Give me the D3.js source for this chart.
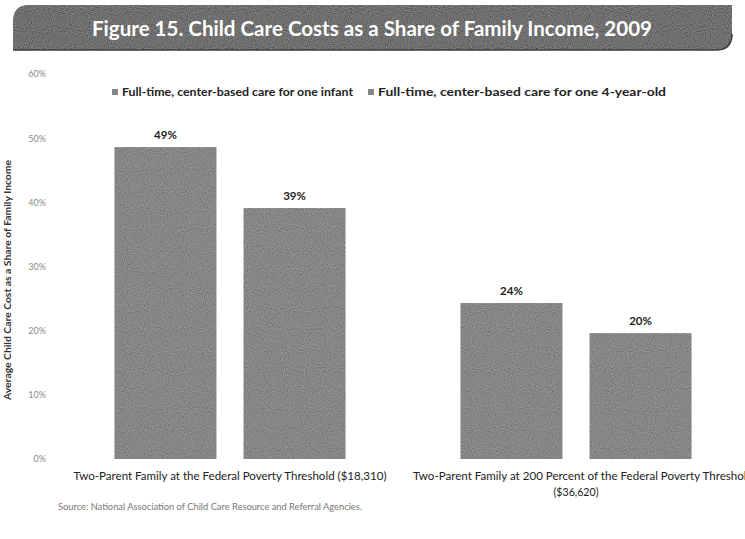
<!DOCTYPE html>
<html>
<head>
<meta charset="utf-8">
<script src="https://cdn.jsdelivr.net/npm/d3@7"></script>
<style>
    body { margin: 0; background: #fff; }
    text { font-family: Lato, "Open Sans", sans-serif; }
</style>
</head>
<body>
<div id="main"></div>
<script>
const W = 745;
const H = 539;

// data
const groups = ["Two-Parent Family at the Federal Poverty Threshold ($18,310)",
    "Two-Parent Family at 200  Percent of the Federal Poverty Threshold ($36,620)"];
const groupLines = [
    ["Two-Parent Family at the Federal Poverty Threshold ($18,310)"],
    ["Two-Parent Family at 200  Percent of the Federal Poverty Threshold", "($36,620)"]
];
const series = ["Full-time, center-based care for one infant",
    "Full-time, center-based care for one 4-year-old"];
const infant = [48.6, 24.3];
const preschool = [39.1, 19.6];
const valueLabels = [["49%", "24%"], ["39%", "20%"]];
const yTicks = [0, 10, 20, 30, 40, 50, 60];

var ctx = {
    barColor: "#878787",
    bannerColor: "#707070",
};

var svg = d3.select("#main").append("svg")
    .attr("width", W)
    .attr("height", H);

// grain filter to mimic the scanned texture
var defs = svg.append("defs");
var grain = defs.append("filter")
    .attr("id", "grain")
    .attr("x", 0).attr("y", 0).attr("width", 1).attr("height", 1);
grain.append("feTurbulence")
    .attr("type", "fractalNoise")
    .attr("baseFrequency", 0.95)
    .attr("numOctaves", 1)
    .attr("seed", 4)
    .attr("result", "noise");
grain.append("feColorMatrix")
    .attr("in", "noise")
    .attr("type", "matrix")
    .attr("values", "0.33 0.33 0.33 0 0  0.33 0.33 0.33 0 0  0.33 0.33 0.33 0 0  0 0 0 0 1")
    .attr("result", "gray");
grain.append("feComposite")
    .attr("in", "SourceGraphic")
    .attr("in2", "gray")
    .attr("operator", "arithmetic")
    .attr("k1", 0).attr("k2", 1).attr("k3", 0.5).attr("k4", -0.25)
    .attr("result", "mix");
grain.append("feComposite")
    .attr("in", "mix")
    .attr("in2", "SourceGraphic")
    .attr("operator", "in");

// title banner: rounded top-left and bottom-right corners
var bx0 = 13, by0 = 5, bx1 = 732, by1 = 50, r = 16;
svg.append("path")
    .attr("d", `M${bx0},${by1} L${bx0},${by0 + r} Q${bx0},${by0} ${bx0 + r},${by0} L${bx1},${by0} L${bx1},${by1 - r} Q${bx1},${by1} ${bx1 - r},${by1} Z`)
    .attr("fill", ctx.bannerColor)
    .attr("filter", "url(#grain)");
svg.append("path")
    .attr("d", `M${bx0},${by1} L${bx1 - r},${by1} Q${bx1},${by1} ${bx1},${by1 - r}`)
    .attr("fill", "none")
    .attr("stroke", "#3c3c3c")
    .attr("stroke-width", 1.5);
svg.append("text")
    .attr("x", 372)
    .attr("y", 36)
    .attr("text-anchor", "middle")
    .attr("fill", "#fff")
    .attr("textLength", 560)
    .attr("lengthAdjust", "spacingAndGlyphs")
    .style("font-size", "21px")
    .style("font-weight", "bold")
    .text("Figure 15. Child Care Costs as a Share of Family Income, 2009");

// scales
var x0 = d3.scaleBand()
    .domain(groups)
    .range([57, 749]);
var x1 = d3.scaleBand()
    .domain(series)
    .range([0, x0.bandwidth()])
    .paddingInner(0.209)
    .paddingOuter(0.445);
var y = d3.scaleLinear()
    .domain([0, 60])
    .range([459, 74]);

// y axis labels
var yAxis = d3.axisLeft(y)
    .tickValues(yTicks)
    .tickFormat(d => d + "%")
    .tickSize(0)
    .tickPadding(0);
svg.append("g")
    .attr("transform", "translate(46,0)")
    .call(yAxis)
    .call(g => g.select(".domain").remove())
    .selectAll("text")
    .attr("fill", "#8a8a8a")
    .style("font-family", "Lato, sans-serif")
    .style("font-size", "9px");

svg.append("text")
    .attr("transform", "translate(11,280) rotate(-90)")
    .attr("text-anchor", "middle")
    .attr("fill", "#333")
    .attr("textLength", 240)
    .attr("lengthAdjust", "spacingAndGlyphs")
    .style("font-size", "9.5px")
    .style("font-weight", "bold")
    .text("Average Child Care Cost as a Share of Family Income");

// bars
var rows = groups.map((g, i) => ({
    group: g,
    values: [
        { s: series[0], v: infant[i], label: valueLabels[0][i] },
        { s: series[1], v: preschool[i], label: valueLabels[1][i] }
    ]
}));

var groupG = svg.selectAll("g.grp")
    .data(rows)
    .enter()
    .append("g")
    .attr("class", "grp")
    .attr("transform", d => `translate(${x0(d.group)},0)`);

groupG.selectAll("rect")
    .data(d => d.values)
    .enter()
    .append("rect")
    .attr("x", d => x1(d.s))
    .attr("y", d => y(d.v))
    .attr("width", x1.bandwidth())
    .attr("height", d => y(0) - y(d.v))
    .attr("fill", ctx.barColor)
    .attr("filter", "url(#grain)");

groupG.selectAll("text.val")
    .data(d => d.values)
    .enter()
    .append("text")
    .attr("class", "val")
    .attr("x", d => x1(d.s) + x1.bandwidth() / 2)
    .attr("y", d => y(d.v) - 8)
    .attr("text-anchor", "middle")
    .attr("fill", "#222")
    .style("font-size", "11.5px")
    .style("font-weight", "bold")
    .text(d => d.label);

// category labels (second group's first line runs off the right edge, as in the original)
var catWidths = [[313], [340, 45]];
var catShift = [[0], [7, 0]];
groupG.each(function (d, i) {
    d3.select(this).selectAll("text.cat")
        .data(groupLines[i])
        .enter()
        .append("text")
        .attr("class", "cat")
        .attr("x", (t, j) => x0.bandwidth() / 2 + catShift[i][j])
        .attr("y", (t, j) => 480 + j * 16)
        .attr("text-anchor", "middle")
        .attr("fill", "#222")
        .attr("textLength", (t, j) => catWidths[i][j])
        .attr("lengthAdjust", "spacingAndGlyphs")
        .style("font-size", "11px")
        .text(t => t);
});

// legend
var legendX = [112, 368];
var legendW = [231, 288];
var legend = svg.selectAll("g.legend")
    .data(series)
    .enter()
    .append("g")
    .attr("class", "legend")
    .attr("transform", (d, i) => `translate(${legendX[i]},92)`);
legend.append("rect")
    .attr("x", 0)
    .attr("y", -3)
    .attr("width", 6)
    .attr("height", 6)
    .attr("fill", ctx.barColor)
    .attr("filter", "url(#grain)");
legend.append("text")
    .attr("x", 10)
    .attr("y", 4)
    .attr("fill", "#222")
    .attr("textLength", (d, i) => legendW[i])
    .attr("lengthAdjust", "spacingAndGlyphs")
    .style("font-size", "11px")
    .style("font-weight", "bold")
    .text(d => d);

// source note
svg.append("text")
    .attr("x", 58)
    .attr("y", 510)
    .attr("fill", "#777")
    .attr("textLength", 304)
    .attr("lengthAdjust", "spacingAndGlyphs")
    .style("font-size", "8.5px")
    .text("Source: National Association of Child Care Resource and Referral Agencies.");
</script>
</body>
</html>
